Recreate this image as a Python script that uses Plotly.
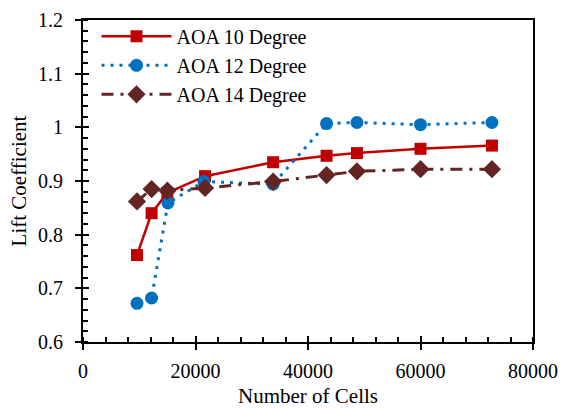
import plotly.graph_objects as go

# Mesh sizes (number of cells) and lift coefficients for each angle of attack
cells_10 = [9600, 12200, 15000, 21700, 33800, 43300, 48700, 60000, 72700]
cl_10 = [0.762, 0.840, 0.878, 0.909, 0.935, 0.947, 0.952, 0.960, 0.966]

cells_12 = [9600, 12200, 15100, 21500, 33800, 43300, 48700, 60000, 72700]
cl_12 = [0.672, 0.682, 0.859, 0.899, 0.894, 1.007, 1.009, 1.005, 1.009]

cells_14 = [9600, 12200, 15000, 21700, 33800, 43300, 48700, 60000, 72700]
cl_14 = [0.862, 0.885, 0.882, 0.887, 0.899, 0.911, 0.918, 0.922, 0.922]

x_ticks = [0, 20000, 40000, 60000, 80000]
y_ticks = [0.6, 0.7, 0.8, 0.9, 1.0, 1.1, 1.2]
y_tick_text = ["0.6", "0.7", "0.8", "0.9", "1", "1.1", "1.2"]

FONT = "'Liberation Serif', 'DejaVu Serif', serif"

fig = go.Figure()

fig.add_trace(go.Scatter(
    x=cells_10, y=cl_10, name="AOA 10 Degree", mode="lines+markers",
    line=dict(color="#C00000", width=2.5),
    marker=dict(symbol="square", size=12, color="#C00000"),
))
fig.add_trace(go.Scatter(
    x=cells_12, y=cl_12, name="AOA 12 Degree", mode="lines+markers",
    line=dict(color="#0070C0", width=3, dash="3px,6px"),
    marker=dict(symbol="circle", size=13, color="#0070C0"),
))
fig.add_trace(go.Scatter(
    x=cells_14, y=cl_14, name="AOA 14 Degree", mode="lines+markers",
    line=dict(color="#632523", width=3, dash="12px,7px,3px,7px"),
    marker=dict(symbol="diamond", size=14, color="#632523"),
))
# empty trace so the inner tick axes are drawn
fig.add_trace(go.Scatter(x=[], y=[], xaxis="x2", yaxis="y2",
                         showlegend=False, hoverinfo="skip"))

axis_common = dict(
    showgrid=False, zeroline=False, automargin=False,
    showline=True, linecolor="black", linewidth=2, mirror=True,
    ticks="outside", ticklen=6, tickwidth=2, tickcolor="black",
    tickfont=dict(family=FONT, size=20, color="black"),
)

fig.update_layout(
    width=561, height=408,
    margin=dict(l=83, r=28, t=20, b=66),
    paper_bgcolor="white", plot_bgcolor="white",
    font=dict(family=FONT, size=20, color="black"),
    xaxis=dict(
        range=[0, 80000], tickvals=x_ticks, ticktext=[str(v) for v in x_ticks],
        ticklabelstandoff=4,
        minor=dict(dtick=4000, ticks="inside", ticklen=5, tickwidth=1.5,
                   tickcolor="black", showgrid=False),
        title=dict(text="Number of Cells", font=dict(family=FONT, size=21),
                   standoff=8),
        **axis_common,
    ),
    yaxis=dict(
        range=[0.6, 1.2], tickvals=y_ticks, ticktext=y_tick_text,
        ticklabelstandoff=8,
        minor=dict(dtick=0.02, ticks="inside", ticklen=5, tickwidth=1.5,
                   tickcolor="black", showgrid=False),
        title=dict(text="Lift Coefficient", font=dict(family=FONT, size=21),
                   standoff=6),
        **axis_common,
    ),
    xaxis2=dict(
        overlaying="x", anchor="y2", range=[0, 80000], tickvals=x_ticks,
        showticklabels=False, showgrid=False, zeroline=False, showline=False,
        automargin=False,
        ticks="inside", ticklen=6, tickwidth=2, tickcolor="black",
    ),
    yaxis2=dict(
        overlaying="y", anchor="x2", side="left", range=[0.6, 1.2],
        tickvals=y_ticks, showticklabels=False, showgrid=False,
        zeroline=False, showline=False, automargin=False,
        ticks="inside", ticklen=6, tickwidth=2, tickcolor="black",
    ),
    legend=dict(
        x=0.03, y=1.01, xanchor="left", yanchor="top",
        bgcolor="rgba(0,0,0,0)", borderwidth=0,
        font=dict(family=FONT, size=20, color="black"),
        itemwidth=70, tracegroupgap=0,
    ),
    showlegend=True,
)

fig.write_html("out.html")
